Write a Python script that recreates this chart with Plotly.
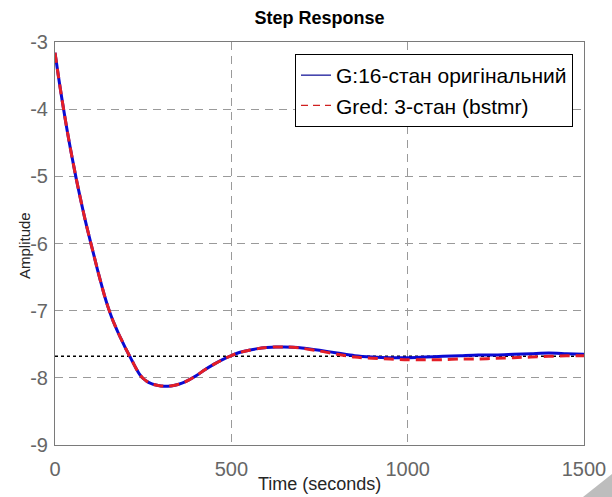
import plotly.graph_objects as go

# ---- data ----
time_s = [0, 10, 20, 30, 40, 50, 60, 70, 80, 90, 100, 110, 120, 130, 140, 150, 160,
          170, 180, 190, 200, 210, 220, 230, 240, 250, 260, 270, 280, 300, 320, 340,
          360, 380, 400, 425, 450, 475, 500, 525, 550, 575, 600, 625, 650, 675, 700,
          750, 800, 850, 900, 950, 1000, 1050, 1100, 1150, 1200, 1250, 1300, 1350,
          1400, 1450, 1500]

g_original = [-3.16, -3.52, -3.86, -4.18, -4.48, -4.76, -5.03, -5.28, -5.52, -5.75,
              -5.96, -6.17, -6.38, -6.58, -6.77, -6.94, -7.09, -7.22, -7.34, -7.45,
              -7.56, -7.66, -7.76, -7.86, -7.95, -8.01, -8.05, -8.08, -8.10, -8.12,
              -8.125, -8.11, -8.08, -8.03, -7.97, -7.88, -7.80, -7.73, -7.67, -7.62,
              -7.59, -7.565, -7.55, -7.54, -7.54, -7.545, -7.555, -7.59, -7.63, -7.67,
              -7.69, -7.70, -7.70, -7.69, -7.68, -7.67, -7.66, -7.66, -7.65, -7.64,
              -7.63, -7.64, -7.65]

g_reduced = [-3.16, -3.52, -3.86, -4.18, -4.48, -4.76, -5.03, -5.28, -5.52, -5.75,
             -5.96, -6.17, -6.38, -6.58, -6.77, -6.94, -7.09, -7.22, -7.34, -7.45,
             -7.56, -7.66, -7.76, -7.86, -7.95, -8.01, -8.05, -8.08, -8.10, -8.12,
             -8.125, -8.11, -8.08, -8.03, -7.97, -7.88, -7.80, -7.73, -7.67, -7.62,
             -7.59, -7.565, -7.55, -7.54, -7.54, -7.545, -7.56, -7.60, -7.65, -7.69,
             -7.71, -7.72, -7.73, -7.73, -7.73, -7.72, -7.72, -7.71, -7.70, -7.69,
             -7.68, -7.67, -7.67]

steady_state = -7.68
ss_time = [0, 1500]

x_ticks = [0, 500, 1000, 1500]
x_labels = ["0", "500", "1000", "1500"]
y_ticks = [-9, -8, -7, -6, -5, -4, -3]
y_labels = ["-9", "-8", "-7", "-6", "-5", "-4", "-3"]

name_orig = "G:16-стан оригінальний"
name_red = "Gred: 3-стан (bstmr)"

FONT = "Liberation Sans, Arial, sans-serif"
BLUE = "#0a0ad2"
RED = "#e41e26"

fig = go.Figure()

fig.add_trace(go.Scatter(
    x=ss_time, y=[steady_state] * len(ss_time), mode="lines",
    line=dict(color="black", width=1.5, dash="dot"),
    showlegend=False, hoverinfo="skip"))

fig.add_trace(go.Scatter(
    x=time_s, y=g_original, mode="lines", showlegend=False,
    line=dict(color=BLUE, width=3, shape="spline", smoothing=0.8)))

fig.add_trace(go.Scatter(
    x=time_s, y=g_reduced, mode="lines", showlegend=False,
    line=dict(color=RED, width=3, dash="10px,6px", shape="spline", smoothing=0.8)))

# legend-only entries with thin sample lines, as in the reference
fig.add_trace(go.Scatter(x=[None], y=[None], mode="lines", name=name_orig,
                         line=dict(color="#1a1a9a", width=1.3)))
fig.add_trace(go.Scatter(x=[None], y=[None], mode="lines", name=name_red,
                         line=dict(color="#d02020", width=1.3, dash="7px,5px")))

axis_common = dict(
    showgrid=True, gridcolor="#9a9a9a", gridwidth=1, griddash="8px,6px",
    showline=True, linecolor="#7a7a7a", linewidth=1, mirror=True,
    zeroline=False, ticks="", automargin=False,
    tickfont=dict(family=FONT, size=20, color="#666666"),
)

fig.update_layout(
    width=612, height=497,
    margin=dict(l=55, r=28, t=42, b=52, autoexpand=False),
    paper_bgcolor="white", plot_bgcolor="white",
    title=dict(text="<b>Step Response</b>", x=0.5, xref="paper",
               y=1 - 18 / 497, yref="container", yanchor="middle", automargin=False,
               font=dict(family=FONT, size=18, color="black")),
    xaxis=dict(range=[0, 1500], tickvals=x_ticks, ticktext=x_labels,
               ticklabelstandoff=6, **axis_common),
    yaxis=dict(range=[-9, -3], tickvals=y_ticks, ticktext=y_labels,
               ticklabelstandoff=2, **axis_common),
    legend=dict(x=(573 - 55) / 529, xanchor="right", y=(445 - 54) / 403, yanchor="top",
                bgcolor="white", bordercolor="black", borderwidth=1,
                font=dict(family=FONT, size=21, color="black"),
                tracegroupgap=0, itemwidth=30),
    showlegend=True,
    annotations=[
        dict(text="Time (seconds)", x=0.5, xref="paper", y=-(484 - 445) / 403, yref="paper",
             showarrow=False, xanchor="center", yanchor="middle",
             font=dict(family=FONT, size=18, color="#262626")),
        dict(text="Amplitude", x=-(55 - 24) / 529, xref="paper", y=(445 - 246) / 403, yref="paper",
             showarrow=False, xanchor="center", yanchor="middle", textangle=-90,
             font=dict(family=FONT, size=15, color="#262626")),
    ],
    shapes=[
        dict(type="path", xref="paper", yref="paper",
             path="M %f %f L %f %f L %f %f Z" % (
                 (583 - 55) / 529, (445 - 497) / 403,
                 (612 - 55) / 529, (445 - 474) / 403,
                 (612 - 55) / 529, (445 - 497) / 403),
             fillcolor="#bdbdbd", line=dict(width=0), layer="above"),
    ],
)

fig.write_html("out.html", config={"displayModeBar": False},
               post_script="document.body.style.margin='0px';document.body.style.padding='0px';")
